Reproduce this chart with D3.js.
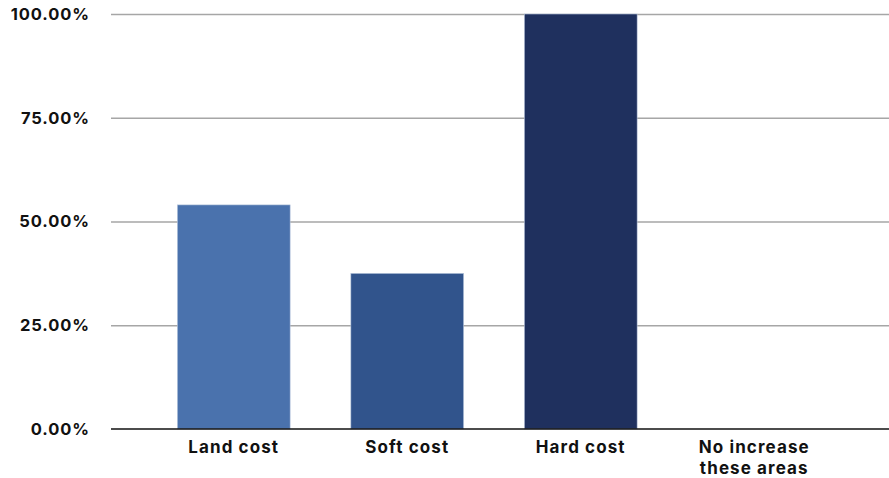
<!DOCTYPE html>
<html>
<head>
<meta charset="utf-8">
<script src="https://cdn.jsdelivr.net/npm/d3@7"></script>
<style>
  body { margin: 0; background: #fff; }
  svg { display: block; font-family: Inter, "Open Sans", sans-serif; }
  .tick-label { font-weight: 700; font-size: 16.5px; fill: #111; letter-spacing: 0.9px; }
  .cat-label { font-weight: 700; font-size: 17px; fill: #111; letter-spacing: 1.1px; }
</style>
</head>
<body>
<svg></svg>
<script>
// Data
let categories = ['Land cost', 'Soft cost', 'Hard cost', 'No increase these areas']
let values = [54, 37.5, 100, 0]
let colors = ['#4a72ad', '#31548c', '#1f305e', '#1f305e']
let yTicks = [0, 25, 50, 75, 100]

// Dimensions
let width = 889
let height = 478
let plotLeft = 111
let plotRight = 889
let yTop = 14
let yBottom = 429

let svg = d3.select('svg')
    .attr('width', width)
    .attr('height', height)

// Scales
let x = d3.scaleBand()
    .domain(categories)
    .range([147, 841])
    .paddingInner(0.35)
    .paddingOuter(0.175)

let y = d3.scaleLinear()
    .domain([0, 100])
    .range([yBottom, yTop])

// Gridlines
let grid = d3.axisLeft(y)
    .tickValues(yTicks.filter(d => d > 0))
    .tickFormat('')
    .tickSize(-(plotRight - plotLeft))

svg.append('g')
    .attr('transform', `translate(${plotLeft},0)`)
    .call(grid)
    .call(g => g.select('.domain').remove())
    .call(g => g.selectAll('line').attr('stroke', '#a6a6a6').attr('stroke-width', 1.3))

// Y tick labels
svg.append('g')
    .selectAll('text')
    .data(yTicks)
    .enter()
    .append('text')
    .attr('class', 'tick-label')
    .attr('x', 90)
    .attr('y', d => y(d))
    .attr('dy', '0.35em')
    .attr('text-anchor', 'end')
    .text(d => d.toFixed(2) + '%')

// Bars
svg.selectAll('rect')
    .data(values)
    .enter()
    .append('rect')
    .attr('x', (d, i) => x(categories[i]))
    .attr('y', d => y(d))
    .attr('width', x.bandwidth())
    .attr('height', d => y(0) - y(d))
    .attr('fill', (d, i) => colors[i])
    .attr('stroke', '#b8c6dc')
    .attr('stroke-width', 0.6)

// Zero line
svg.append('line')
    .attr('x1', plotLeft)
    .attr('x2', plotRight)
    .attr('y1', y(0))
    .attr('y2', y(0))
    .attr('stroke', '#111')
    .attr('stroke-width', 1.6)

// Category labels
let labelLines = {
    'No increase these areas': ['No increase', 'these areas']
}
categories.forEach(c => {
    let lines = labelLines[c] || [c]
    let t = svg.append('text')
        .attr('class', 'cat-label')
        .attr('text-anchor', 'middle')
        .attr('x', x(c) + x.bandwidth() / 2)
        .attr('y', 453)
    lines.forEach((l, i) => {
        t.append('tspan')
            .attr('x', x(c) + x.bandwidth() / 2)
            .attr('dy', i === 0 ? 0 : 21)
            .text(l)
    })
})
</script>
</body>
</html>
